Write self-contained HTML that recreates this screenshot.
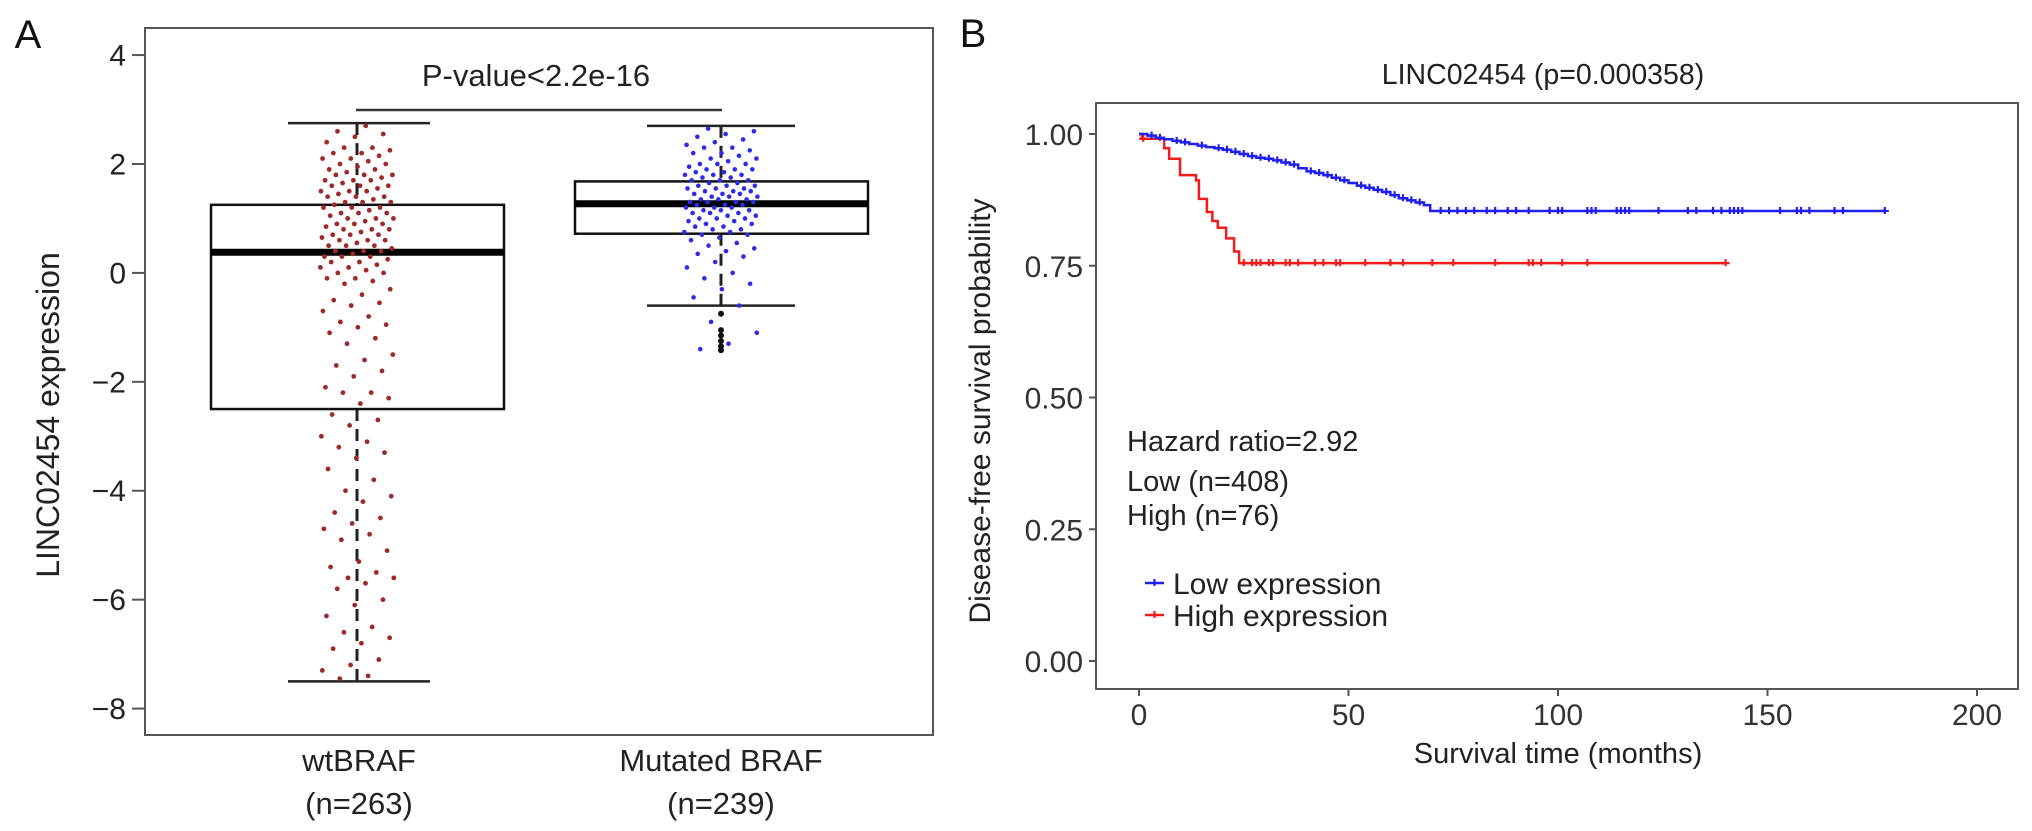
<!DOCTYPE html>
<html><head><meta charset="utf-8"><style>
html,body{margin:0;padding:0;background:#fff}
svg{display:block;font-family:"Liberation Sans",Arial,sans-serif}
</style></head><body>
<svg id="fig" width="2032" height="831" viewBox="0 0 2032 831" xmlns="http://www.w3.org/2000/svg">
<rect width="2032" height="831" fill="#fff"/>
<g id="pa"></g>
<g id="pb"></g>
</svg>
<script>
// ---------- Panel A data ----------
const groupLabels = ["wtBRAF","Mutated BRAF"];
const groupNs = ["(n=263)","(n=239)"];
const boxQ1 = [-2.5, 0.72];
const boxMedian = [0.38, 1.27];
const boxQ3 = [1.25, 1.68];
const whiskerLow = [-7.5, -0.6];
const whiskerHigh = [2.75, 2.7];
const yTicksA = [4,2,0,-2,-4,-6,-8];
const wtValues = [2.7,2.6,2.55,2.5,2.4,2.3,2.3,2.25,2.2,2.2,2.15,2.1,2.1,2.05,2.0,2.0,1.95,1.9,1.9,1.85,1.8,1.8,1.8,1.75,1.7,1.7,1.7,1.65,1.6,1.6,1.6,1.55,1.5,1.5,1.5,1.45,1.4,1.4,1.4,1.35,1.3,1.3,1.3,1.25,1.2,1.2,1.2,1.15,1.1,1.1,1.1,1.05,1.0,1.0,1.0,0.95,0.9,0.9,0.9,0.85,0.8,0.8,0.8,0.75,0.7,0.7,0.7,0.65,0.6,0.6,0.6,0.55,0.5,0.5,0.5,0.45,0.4,0.4,0.4,0.35,0.3,0.3,0.3,0.25,0.2,0.2,0.15,0.1,0.1,0.05,0.0,0.0,-0.1,-0.1,-0.15,-0.2,-0.3,-0.4,-0.5,-0.55,-0.6,-0.7,-0.8,-0.9,-0.95,-1.0,-1.1,-1.2,-1.3,-1.5,-1.6,-1.7,-1.8,-1.9,-2.1,-2.2,-2.2,-2.3,-2.4,-2.6,-2.7,-2.8,-3.0,-3.1,-3.2,-3.3,-3.4,-3.6,-3.8,-4.0,-4.1,-4.2,-4.4,-4.5,-4.6,-4.7,-4.8,-4.9,-5.1,-5.3,-5.4,-5.5,-5.6,-5.6,-5.7,-5.8,-6.0,-6.1,-6.3,-6.5,-6.6,-6.7,-6.8,-6.9,-7.1,-7.2,-7.3,-7.4,-7.45];
const mutValues = [2.65,2.6,2.55,2.5,2.45,2.4,2.35,2.3,2.3,2.25,2.2,2.2,2.15,2.1,2.1,2.05,2.0,2.0,2.0,1.95,1.9,1.9,1.9,1.85,1.85,1.8,1.8,1.8,1.75,1.75,1.7,1.7,1.7,1.65,1.65,1.6,1.6,1.6,1.55,1.55,1.55,1.5,1.5,1.5,1.45,1.45,1.45,1.4,1.4,1.4,1.35,1.35,1.35,1.3,1.3,1.3,1.3,1.25,1.25,1.25,1.2,1.2,1.2,1.15,1.15,1.15,1.1,1.1,1.1,1.05,1.05,1.0,1.0,1.0,0.95,0.95,0.9,0.9,0.85,0.85,0.8,0.8,0.75,0.75,0.7,0.7,0.65,0.6,0.55,0.5,0.45,0.4,0.35,0.3,0.2,0.1,0.0,-0.1,-0.2,-0.3,-0.45,-0.6,-0.9,-1.1,-1.3,-1.4];
const mutOutliers = [-0.75,-1.05,-1.15,-1.25,-1.35,-1.42];

// ---------- Panel B data ----------
const xTicksB = [0,50,100,150,200];
const yTicksB = [1.00,0.75,0.50,0.25,0.00];
const lowTimes = [0,2,4,6,8,10,12,14,16,18,20,22,24,26,28,30,32,34,36,38,40,42,44,46,48,50,52,54,56,58,60,62,64,66,68,69.5];
const lowSurv = [1.0,0.997,0.993,0.99,0.987,0.984,0.981,0.978,0.975,0.973,0.97,0.966,0.962,0.958,0.955,0.953,0.95,0.946,0.942,0.935,0.929,0.926,0.922,0.917,0.912,0.907,0.902,0.898,0.894,0.89,0.884,0.878,0.874,0.87,0.865,0.854];
const lowEnd = 178;
const lowCensor = [3,5,9,11,15,19,21,23,25,27,29,31,33,35,37,41,43,45,47,49,53,55,57,59,61,63,65,67,72,74,76,78,80,83,85,88,90,93,98,100,101,107,108,109,114,115,116,117,124,131,133,137,139,141,142,143,144,153,157,158,160,166,168,178];
const highTimes = [0,0.7,6,7.2,9.8,13.6,14.3,16.2,17.5,18.8,20.8,22.7,23.9];
const highSurv = [1,0.991,0.973,0.953,0.922,0.912,0.877,0.852,0.835,0.822,0.802,0.777,0.755];
const highEnd = 140;
const highCensor = [1,25,27,28,29,31,32,35,36,38,42,44,47,48,54,60,63,70,75,85,93,94,96,101,107,140];

const NS="http://www.w3.org/2000/svg";
function mk(parent,tag,attrs,text){const e=document.createElementNS(NS,tag);for(const k in attrs)e.setAttribute(k,attrs[k]);if(text!==undefined)e.textContent=text;parent.appendChild(e);return e;}

// ---------- Panel A ----------
const pa=document.getElementById('pa');
const yA=v=>272.9-v*54.46;
const xA=[357,721];
let t;
t=mk(pa,'text',{x:28,y:48,'font-size':40,'text-anchor':'middle',fill:'#111'},'A');


let fr=mk(pa,'rect',{x:145,y:28,width:788,height:707,fill:'none',stroke:'#555','stroke-width':2});


yTicksA.forEach(v=>{
  const y=yA(v);
  const l=mk(pa,'line',{x1:132,x2:145,y1:y,y2:y,stroke:'#555','stroke-width':2});
  
  
  const tx=mk(pa,'text',{x:126,y:y+10.5,'font-size':30,'text-anchor':'end',fill:'#222'},v<0?'\u2212'+Math.abs(v):String(v));
  
  
});
t=mk(pa,'text',{x:0,y:0,'font-size':32,'text-anchor':'middle',fill:'#222',transform:'translate(59,415) rotate(-90)'},'LINC02454 expression');


groupLabels.forEach((g,i)=>{
  const a=mk(pa,'text',{x:i===0?359:xA[i],y:771,'font-size':31,'text-anchor':'middle',fill:'#222'},g);
  
  
  const b=mk(pa,'text',{x:i===0?359:xA[i],y:814,'font-size':31,'text-anchor':'middle',fill:'#222'},groupNs[i]);
  
  
});
[0,1].forEach(i=>{
  const cx=xA[i];
  const g=mk(pa,'g',{});
  
  
  const left=i===0?211:575, right=i===0?504:868;
  mk(g,'line',{x1:cx,x2:cx,y1:yA(whiskerHigh[i]),y2:yA(boxQ3[i]),stroke:'#222','stroke-width':3,'stroke-dasharray':'12,8'});
  mk(g,'line',{x1:cx,x2:cx,y1:yA(boxQ1[i]),y2:yA(whiskerLow[i]),stroke:'#222','stroke-width':3,'stroke-dasharray':'12,8'});
  const capL=i===0?288:647, capR=i===0?430:795;
  mk(g,'line',{x1:capL,x2:capR,y1:yA(whiskerHigh[i]),y2:yA(whiskerHigh[i]),stroke:'#222','stroke-width':2.5});
  mk(g,'line',{x1:capL,x2:capR,y1:yA(whiskerLow[i]),y2:yA(whiskerLow[i]),stroke:'#222','stroke-width':2.5});
  mk(g,'rect',{x:left,y:yA(boxQ3[i]),width:right-left,height:yA(boxQ1[i])-yA(boxQ3[i]),fill:'none',stroke:'#111','stroke-width':2.5});
  mk(g,'line',{x1:left,x2:right,y1:yA(boxMedian[i]),y2:yA(boxMedian[i]),stroke:'#000','stroke-width':7});
});
function jit(k){return ((k*0.6180339887)%1)*2-1;}
const ptsG=mk(pa,'g',{});


wtValues.forEach((v,k)=>{
  const c=mk(ptsG,'circle',{cx:xA[0]+jit(k+1)*37,cy:yA(v),r:2.4,fill:'#a02828'});
  
  
});
mutValues.forEach((v,k)=>{
  const c=mk(ptsG,'circle',{cx:xA[1]+jit(k+7)*37,cy:yA(v),r:2.3,fill:'#2b2bea'});
  
  
});
mutOutliers.forEach(v=>{
  const c=mk(ptsG,'circle',{cx:xA[1],cy:yA(v),r:3,fill:'#111'});
  
  
});
const br=mk(pa,'line',{x1:356,x2:722,y1:110,y2:110,stroke:'#333','stroke-width':2.5});


t=mk(pa,'text',{x:536,y:86,'font-size':31,'text-anchor':'middle',fill:'#222'},'P-value<2.2e-16');



// ---------- Panel B ----------
const pb=document.getElementById('pb');
const xB=m=>1139+m*4.19;
const yB=s=>661-s*527;
t=mk(pb,'text',{x:973,y:47,'font-size':40,'text-anchor':'middle',fill:'#111'},'B');


t=mk(pb,'text',{x:1543,y:84,'font-size':28.5,'text-anchor':'middle',fill:'#222'},'LINC02454 (p=0.000358)');


fr=mk(pb,'rect',{x:1096,y:103,width:922,height:586,fill:'none',stroke:'#555','stroke-width':2});


yTicksB.forEach(v=>{
  const y=yB(v);
  const l=mk(pb,'line',{x1:1089,x2:1096,y1:y,y2:y,stroke:'#555','stroke-width':2});
  
  
  const tx=mk(pb,'text',{x:1083,y:y+11,'font-size':30,'text-anchor':'end',fill:'#333'},v.toFixed(2));
  
  
});
xTicksB.forEach(v=>{
  const x=xB(v);
  const l=mk(pb,'line',{x1:x,x2:x,y1:689,y2:696,stroke:'#555','stroke-width':2});
  
  
  const tx=mk(pb,'text',{x:x,y:725,'font-size':30,'text-anchor':'middle',fill:'#333'},String(v));
  
  
});
t=mk(pb,'text',{x:1558,y:763,'font-size':29,'text-anchor':'middle',fill:'#222'},'Survival time (months)');


t=mk(pb,'text',{x:0,y:0,'font-size':30,'text-anchor':'middle',fill:'#222',transform:'translate(990,411) rotate(-90)'},'Disease-free survival probability');


function stepPath(times,surv,end){
  let d='M'+xB(times[0])+','+yB(surv[0]);
  for(let i=1;i<times.length;i++){d+=' H'+xB(times[i])+' V'+yB(surv[i]);}
  d+=' H'+xB(end);return d;
}
function survAt(times,surv,m){let s=surv[0];for(let i=0;i<times.length;i++){if(times[i]<=m)s=surv[i];}return s;}
function drawCurve(times,surv,end,cens,color,name){
  const g=mk(pb,'g',{});
  
  
  mk(g,'path',{d:stepPath(times,surv,end),fill:'none',stroke:color,'stroke-width':2.5});
  cens.forEach(m=>{
    const x=xB(m),y=yB(survAt(times,surv,m));
    const c=mk(g,'path',{d:`M${x-4},${y} H${x+4} M${x},${y-4} V${y+3}`,stroke:color,'stroke-width':2.2});
    
    
  });
}
drawCurve(highTimes,highSurv,highEnd,highCensor,'#f21c1c','high-expression-curve');
drawCurve(lowTimes,lowSurv,lowEnd,lowCensor,'#1f1ff0','low-expression-curve');
['Hazard ratio=2.92','Low (n=408)','High (n=76)'].forEach((s,i)=>{
  const tx=mk(pb,'text',{x:1127,y:[451,491,525][i],'font-size':29,fill:'#222'},s);
  
  
});
[['Low expression','#1f1ff0',583],['High expression','#f21c1c',615]].forEach(([s,c,y])=>{
  const g=mk(pb,'g',{});
  
  
  mk(g,'line',{x1:1145,x2:1164,y1:y,y2:y,stroke:c,'stroke-width':2.5});
  mk(g,'path',{d:`M1154.5,${y-4} V${y+3}`,stroke:c,'stroke-width':2.2});
  mk(g,'text',{x:1173,y:y+11,'font-size':30,fill:'#222'},s);
});
</script>
</body></html>
